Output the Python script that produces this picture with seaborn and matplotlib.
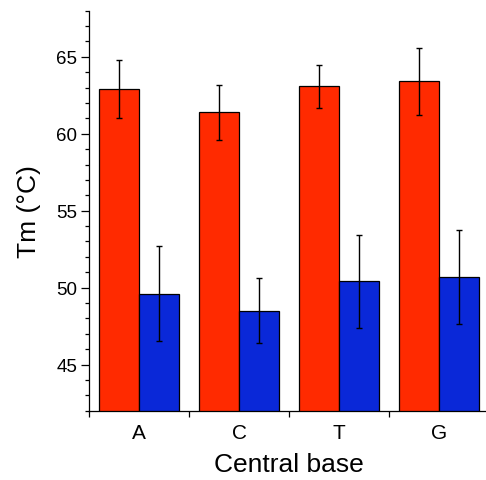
"""
Melting temperature by central base, two conditions, with error bars.
"""
import matplotlib
matplotlib.use("Agg")
import matplotlib.pyplot as plt
import numpy as np
import pandas as pd
import seaborn as sns
from matplotlib.ticker import MultipleLocator, FixedLocator

# data
bases = ["A", "C", "T", "G"]
groups = ["red", "blue"]
tm_red = [62.9, 61.4, 63.1, 63.4]
err_red = [1.9, 1.8, 1.4, 2.2]
tm_blue = [49.6, 48.5, 50.4, 50.7]
err_blue = [3.1, 2.1, 3.0, 3.05]

colors = {"red": "#FF2A00", "blue": "#0A28D8"}

df = pd.DataFrame({
    "base": bases * 2,
    "group": ["red"] * 4 + ["blue"] * 4,
    "tm": tm_red + tm_blue,
    "err": err_red + err_blue,
})

sns.set_style("ticks")
plt.rcParams["font.family"] = ["Liberation Sans", "DejaVu Sans"]
plt.rcParams["text.color"] = "black"
plt.rcParams["axes.labelcolor"] = "black"
plt.rcParams["xtick.color"] = "black"
plt.rcParams["ytick.color"] = "black"
plt.rcParams["axes.edgecolor"] = "black"

fig = plt.figure(figsize=(4.86, 4.81), dpi=100)
ax = fig.add_axes([0.1837, 0.1441, 0.823, 0.8316])

sns.barplot(data=df, x="base", y="tm", hue="group", order=bases,
            hue_order=groups, palette=colors, saturation=1, errorbar=None,
            edgecolor="black", linewidth=0.9, width=0.8, legend=False, ax=ax)

# error bars at the centre of each drawn bar
for cont, g in zip(ax.containers, groups):
    sub = df[df["group"] == g].set_index("base").loc[bases]
    xs = [p.get_x() + p.get_width() / 2 for p in cont.patches]
    ax.errorbar(xs, sub["tm"], yerr=sub["err"], fmt="none", ecolor="black",
                elinewidth=1.0, capsize=2, capthick=1.0)

ax.set_ylim(42, 68)
ax.set_xlim(-0.5, 3.5)
ax.yaxis.set_major_locator(FixedLocator([45, 50, 55, 60, 65]))
ax.yaxis.set_minor_locator(MultipleLocator(1))
ax.tick_params(axis="y", which="major", length=5.5, width=0.9, labelsize=13.5, pad=3)
ax.tick_params(axis="y", which="minor", length=3, width=0.9)

ax.set_xticks(range(len(bases)))
ax.set_xticklabels(bases)
ax.xaxis.set_minor_locator(FixedLocator([-0.5, 0.5, 1.5, 2.5, 3.5]))
ax.tick_params(axis="x", which="major", length=0, labelsize=15, pad=9)
ax.tick_params(axis="x", which="minor", length=4.5, width=0.9)

ax.set_xlabel("Central base", fontsize=19, labelpad=7)
ax.set_ylabel("Tm (°C)", fontsize=19, labelpad=11)

for s in ["top", "right"]:
    ax.spines[s].set_visible(False)
for s in ["left", "bottom"]:
    ax.spines[s].set_linewidth(0.9)

fig.savefig("out.png", dpi=100)
